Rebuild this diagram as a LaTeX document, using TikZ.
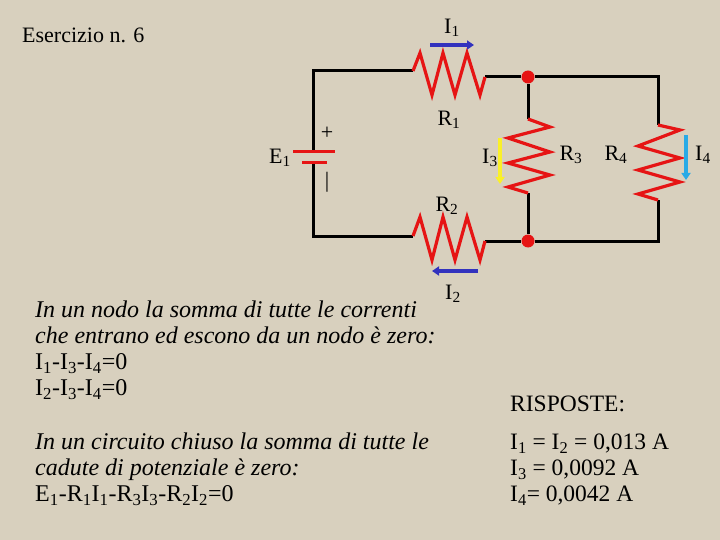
\documentclass[tikz,border=0pt]{standalone}
\usepackage{fontspec}
\setmainfont{Liberation Serif}
\usetikzlibrary{arrows.meta}
\definecolor{bg}{RGB}{216,208,190}
\definecolor{resred}{RGB}{230,20,20}
\definecolor{arrblue}{RGB}{50,50,190}
\definecolor{arryel}{RGB}{250,240,40}
\definecolor{arrcyan}{RGB}{40,170,230}
\tikzstyle{lbl} = [font=\fontsize{22}{24}\selectfont, inner sep=0pt]
\tikzstyle{txt} = [font=\fontsize{23.5}{26}\selectfont, inner sep=0pt, anchor=west, align=left]
\tikzset{wire/.style = {line width=3pt, black},
  res/.style = {line width=3.2pt, resred, line join=miter},
  cur/.style = {line width=3.5pt, -{Triangle[length=7pt,width=9pt]}},
  dot/.style = {circle, fill=resred, inner sep=0pt, minimum size=13pt}
}

\begin{document}
\begin{tikzpicture}[x=1pt,y=-1pt]
  \fill[bg] (0,0) rectangle (720,540);
  \useasboundingbox (0,0) rectangle (720,540);
  % corners and ends
  \coordinate (tl) at (313,71);
  \coordinate (bl) at (313,236);
  \coordinate (bp) at (313,152);
  \coordinate (bm) at (313,163);
  \coordinate (r1a) at (413,71);
  \coordinate (r1b) at (485,77);
  \coordinate (r2a) at (413,236);
  \coordinate (r2b) at (485,241);
  \node[dot] (n1) at (528,77) {};
  \node[dot] (n2) at (528,241) {};
  \coordinate (r3a) at (528,119);
  \coordinate (r3b) at (528,193);
  \coordinate (tr) at (658,77);
  \coordinate (r4a) at (658,125);
  \coordinate (r4b) at (658,200);
  \coordinate (br) at (658,241);
  % wires
  \draw[wire] (bp) -- (tl) -- (r1a);
  \draw[wire] (bm) -- (bl) -- (r2a);
  \draw[wire] (r1b) -- (n1) -- (tr) -- (r4a);
  \draw[wire] (r2b) -- (n2) -- (br) -- (r4b);
  \draw[wire] (n1) -- (r3a);
  \draw[wire] (r3b) -- (n2);
  % resistors
  \draw[res] (r1a) -- (420,53) -- (432,95) -- (443,53) -- (455,95) -- (467,53) -- (480,95) -- (r1b);
  \draw[res] (r2a) -- (420,217) -- (432,260) -- (443,217) -- (455,260) -- (467,217) -- (480,260) -- (r2b);
  \draw[res] (r3a) -- (550,127) -- (508,138) -- (550,152) -- (508,163) -- (550,175) -- (508,187) -- (r3b);
  \draw[res] (r4a) -- (680,130) -- (638,146) -- (680,158) -- (638,170) -- (680,182) -- (638,194) -- (r4b);
  % battery
  \draw[resred, line width=3pt] (293,152) -- (335,152);
  \draw[resred, line width=3pt] (302,163) -- (327,163);
  % currents
  \draw[cur, arrblue] (430,45) -- (474,45);
  \draw[cur, arrblue] (478,271) -- (432,271);
  \draw[cur, arryel] (500,138) -- (500,184);
  \draw[cur, arrcyan] (686,135) -- (686,180);
  % labels
  \node[lbl] (i1) at (452,28) {I\textsubscript{1}};
  \node[lbl] (lr1) at (449,120) {R\textsubscript{1}};
  \node[lbl] (le1) at (280,158) {E\textsubscript{1}};
  \node[lbl] (plus) at (327,133) {+};
  \node[lbl] (minus) at (327,182) {|};
  \node[lbl] (i3) at (490,158) {I\textsubscript{3}};
  \node[lbl] (lr3) at (571,155) {R\textsubscript{3}};
  \node[lbl] (lr4) at (616,155) {R\textsubscript{4}};
  \node[lbl] (i4) at (703,155) {I\textsubscript{4}};
  \node[lbl] (lr2) at (447,206) {R\textsubscript{2}};
  \node[lbl] (i2) at (453,294) {I\textsubscript{2}};
  % texts
  \node[txt, font=\fontsize{22}{24}\selectfont] (title) at (22,35) {Esercizio n. 6};
  \node[txt, anchor=north west, font=\fontsize{24}{26}\selectfont] (nodi) at (35,301) {\itshape In un nodo la somma di tutte le correnti\\
    \itshape che entrano ed escono da un nodo è zero:\\
    I\textsubscript{1}-I\textsubscript{3}-I\textsubscript{4}=0\\
    I\textsubscript{2}-I\textsubscript{3}-I\textsubscript{4}=0};
  \node[txt, anchor=north west, font=\fontsize{24}{26}\selectfont] (maglia) at (35,433) {\itshape In un circuito chiuso la somma di tutte le\\
    \itshape cadute di potenziale è zero:\\
    E\textsubscript{1}-R\textsubscript{1}I\textsubscript{1}-R\textsubscript{3}I\textsubscript{3}-R\textsubscript{2}I\textsubscript{2}=0};
  \node[txt] (risp) at (510,404) {RISPOSTE:};
  \node[txt, anchor=north west] (valori) at (510,434) {I\textsubscript{1} = I\textsubscript{2} = 0,013 A\\
    I\textsubscript{3} = 0,0092 A\\
    I\textsubscript{4}= 0,0042 A};
\end{tikzpicture}
\end{document}
